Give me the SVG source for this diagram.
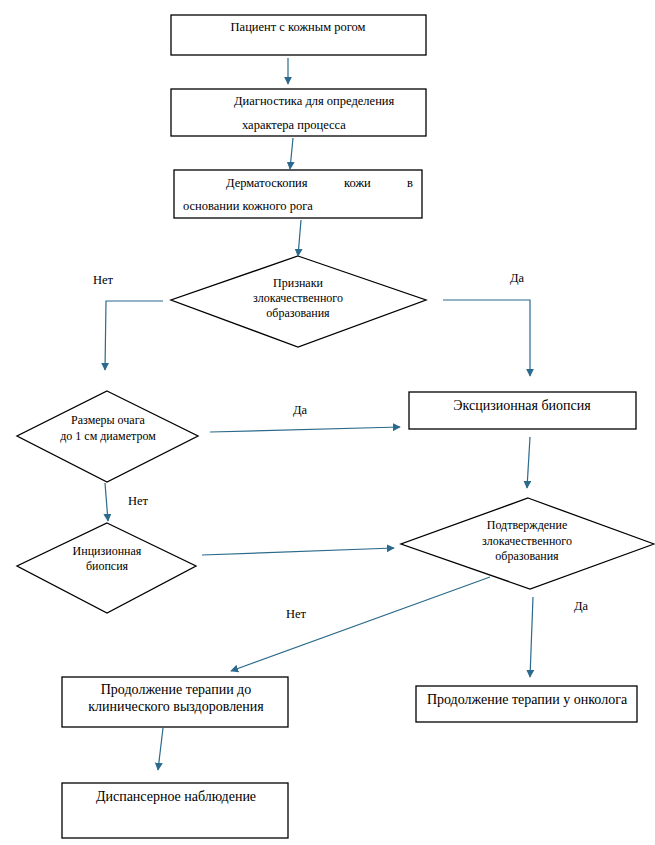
<svg xmlns="http://www.w3.org/2000/svg" width="655" height="845" viewBox="0 0 655 845">
<style>
.b{fill:#fff;stroke:#000;stroke-width:1.3}
text{font-family:'Liberation Serif','Tinos','DejaVu Serif',serif;font-size:12.5px;fill:#000}
.s{font-size:12px}
.l{font-size:14px}
.c{text-anchor:middle}
.a{fill:none;stroke:#2b6a8c;stroke-width:1.2}
</style>
<defs>
<marker id="ah" viewBox="0 0 10 10" refX="9" refY="5" markerWidth="8" markerHeight="8" markerUnits="userSpaceOnUse" orient="auto">
<path d="M0,0 L10,5 L0,10 z" fill="#2b6a8c"/>
</marker>
</defs>
<rect width="655" height="845" fill="#fff"/>

<g id="n1"><rect class="b" x="171" y="15" width="255" height="40"/><text class="c" x="298" y="31">Пациент с кожным рогом</text></g>
<g id="n2"><rect class="b" x="171" y="89" width="255" height="47"/><text x="234" y="105">Диагностика для определения</text><text x="242" y="129">характера процесса</text></g>
<g id="n3"><rect class="b" x="174" y="170" width="248" height="48"/><text x="226" y="187">Дерматоскопия</text><text x="344" y="187">кожи</text><text x="407" y="187">в</text><text x="183" y="210">основании кожного рога</text></g>
<g id="d1"><polygon class="b" points="298,256 426,300 298,347 171,300"/><text class="s c" x="298" y="287">Признаки</text><text class="s c" x="298" y="302">злокачественного</text><text class="s c" x="298" y="317">образования</text></g>
<g id="d2"><polygon class="b" points="107,391 198,436 107,482 17,436"/><text class="s c" x="108" y="424">Размеры очага</text><text class="s c" x="108" y="440">до 1 см диаметром</text></g>
<g id="n4"><rect class="b" x="409" y="392" width="227" height="37"/><text class="l c" x="522" y="410">Эксцизионная биопсия</text></g>
<g id="d3"><polygon class="b" points="528,498 654,544 530,589 401,544"/><text class="s c" x="527" y="529">Подтверждение</text><text class="s c" x="527" y="545">злокачественного</text><text class="s c" x="527" y="560">образования</text></g>
<g id="d4"><polygon class="b" points="107,523 196,566 107,613 17,566"/><text class="s c" x="107" y="555">Инцизионная</text><text class="s c" x="107" y="570">биопсия</text></g>
<g id="n5"><rect class="b" x="62" y="677" width="226" height="50"/><text class="l c" x="176" y="694">Продолжение терапии до</text><text class="l c" x="176" y="711">клинического выздоровления</text></g>
<g id="n6"><rect class="b" x="416" y="686" width="221" height="36"/><text class="l c" x="527" y="704">Продолжение терапии у онколога</text></g>
<g id="n7"><rect class="b" x="62" y="783" width="226" height="55"/><text class="l c" x="176" y="801">Диспансерное наблюдение</text></g>

<g id="labels">
<text x="93" y="284">Нет</text>
<text x="510" y="282">Да</text>
<text x="293" y="414">Да</text>
<text x="128" y="505">Нет</text>
<text x="286" y="618">Нет</text>
<text x="574" y="610">Да</text>
</g>

<g id="connectors">
<path class="a" marker-end="url(#ah)" d="M288,58 L288,84"/>
<path class="a" marker-end="url(#ah)" d="M293,138 L290,169"/>
<path class="a" marker-end="url(#ah)" d="M301,220 L298,256"/>
<path class="a" marker-end="url(#ah)" d="M163,301 L106,301 L105,370"/>
<path class="a" marker-end="url(#ah)" d="M443,300 L530,300 L530,376"/>
<path class="a" marker-end="url(#ah)" d="M210,432 L400,427"/>
<path class="a" marker-end="url(#ah)" d="M530,437 L527,488"/>
<path class="a" marker-end="url(#ah)" d="M105,483 L108,521"/>
<path class="a" marker-end="url(#ah)" d="M202,555 L394,548"/>
<path class="a" marker-end="url(#ah)" d="M490,577 L231,671"/>
<path class="a" marker-end="url(#ah)" d="M533,597 L530,677"/>
<path class="a" marker-end="url(#ah)" d="M163,728 L158,770"/>
</g>
</svg>
